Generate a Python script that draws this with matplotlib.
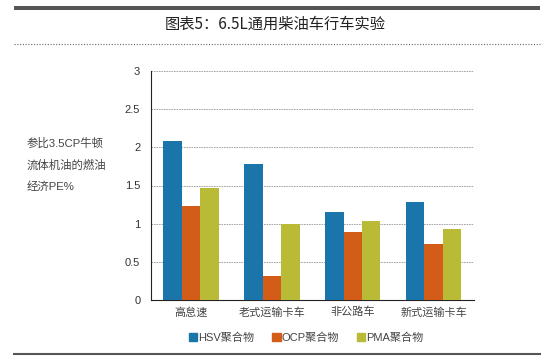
import numpy as np
import matplotlib
matplotlib.use("Agg")
import matplotlib.pyplot as plt
from matplotlib.lines import Line2D
from matplotlib.patches import Patch, Rectangle

plt.rcParams['font.family'] = ['Liberation Sans', 'Noto Sans CJK SC', 'DejaVu Sans']

# data
categories = ['高怠速', '老式运输卡车', '非公路车', '新式运输卡车']
series_names = ['HSV聚合物', 'OCP聚合物', 'PMA聚合物']
hsv = [2.08, 1.78, 1.15, 1.29]
ocp = [1.23, 0.31, 0.89, 0.74]
pma = [1.47, 1.00, 1.04, 0.93]
colors = ['#1a76aa', '#d35c19', '#b9ba36']
yticks = [0, 0.5, 1, 1.5, 2, 2.5, 3]
ytick_labels = ['0', '0.5', '1', '1.5', '2', '2.5', '3']

fig = plt.figure(figsize=(5.5, 3.61), dpi=100)
ax = fig.add_axes([150.7 / 550, 1 - 300 / 361, 323.3 / 550, 229 / 361])

x = np.arange(len(categories))
w = 0.228
for i, (vals, c) in enumerate(zip([hsv, ocp, pma], colors)):
    ax.bar(x + (i - 1) * w, vals, w, color=c, zorder=3)

ax.set_xlim(-0.5, 3.5)
ax.set_ylim(0, 3)
ax.set_yticks(yticks)
ax.set_yticklabels(ytick_labels, fontsize=8, color='#333333')
ax.set_xticks(x)
ax.set_xticklabels(categories, fontsize=8, color='#444444')
ax.tick_params(axis='both', length=0, pad=7.5)
ax.tick_params(axis='x', pad=5)
ax.yaxis.grid(True, linestyle=(0, (2, 1)), color='#999999', linewidth=0.6, zorder=0)
for s in ['top', 'right']:
    ax.spines[s].set_visible(False)
ax.spines['left'].set_color('#222222')
ax.spines['bottom'].set_color('#222222')
ax.spines['left'].set_linewidth(0.8)
ax.spines['bottom'].set_linewidth(0.8)

# y label, left side, three lines
fig.text(27 / 550, 1 - 165 / 361, '参比3.5CP牛顿\n流体机油的燃油\n经济PE%', fontsize=8.2,
         color='#444444', ha='left', va='center', linespacing=2.2)

# title and decorative rules
fig.text(0.5, 1 - 24 / 361, '图表5：6.5L通用柴油车行车实验', fontsize=11,
         ha='center', va='center', color='#222222',
         family=['Noto Sans CJK SC', 'DejaVu Sans'])
tf = fig.transFigure
fig.patches.append(Rectangle((14 / 550, 1 - 10 / 361), 526 / 550, 4 / 361,
                             facecolor='#555555', edgecolor='none', transform=tf, zorder=5))
fig.add_artist(Line2D([14 / 550, 540 / 550], [1 - 44 / 361, 1 - 44 / 361],
                      color='#666666', linewidth=0.8, linestyle=(0, (1, 1.5)), transform=tf))
fig.add_artist(Line2D([14 / 550, 540 / 550], [1 - 354 / 361, 1 - 354 / 361],
                      color='#555555', linewidth=1.5, transform=tf))

handles = [Patch(color=c) for c in colors]
fig.legend(handles, series_names, loc='center left', bbox_to_anchor=(189 / 550, 1 - 338 / 361),
           ncol=3, frameon=False, fontsize=8, handlelength=0.75, handleheight=0.75,
           handletextpad=0.1, columnspacing=1.6, borderaxespad=0, borderpad=0,
           labelcolor='#444444')

fig.savefig('out.png', dpi=100)
